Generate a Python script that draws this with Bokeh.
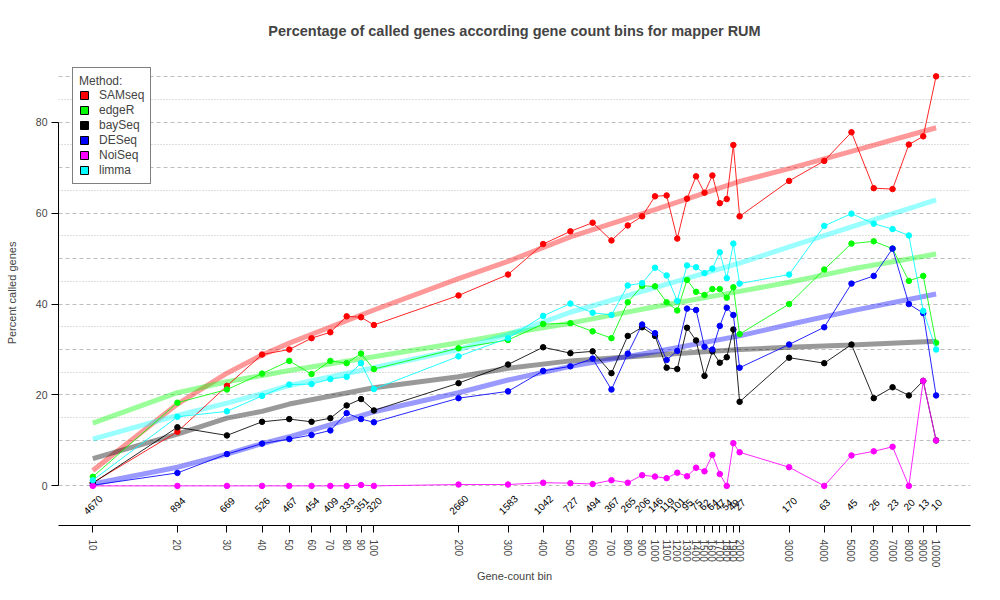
import math
from bokeh.plotting import figure
from bokeh.models import (Range1d, FixedTicker, PrintfTickFormatter, Legend,
                          LegendItem)
from bokeh.embed import file_html
from bokeh.resources import INLINE

# ---------------- data ----------------
bins = [10, 20, 30, 40, 50, 60, 70, 80, 90, 100,
        200, 300, 400, 500, 600, 700, 800, 900, 1000,
        1100, 1200, 1300, 1400, 1500, 1600, 1700, 1800, 1900, 2000,
        3000, 4000, 5000, 6000, 7000, 8000, 9000, 10000]

gene_counts = [4670, 894, 669, 526, 467, 454, 409, 333, 351, 320,
               2660, 1583, 1042, 727, 494, 367, 265, 206, 146,
               119, 101, 95, 75, 62, 64, 47, 54, 49, 27,
               170, 63, 45, 26, 23, 20, 13, 10]

samseq = [0.7, 11.9, 22.0, 28.9, 30.0, 32.5, 33.8, 37.3, 37.1, 35.4,
          41.9, 46.5, 53.2, 56.0, 57.9, 54.0, 57.3, 59.3, 63.7,
          63.9, 54.4, 63.2, 68.1, 64.5, 68.3, 62.2, 63.1, 75.0, 59.3,
          67.1, 71.5, 77.8, 65.5, 65.3, 75.1, 76.9, 90.1]

edger = [2.0, 18.3, 21.2, 24.7, 27.5, 24.6, 27.5, 27.0, 29.1, 25.7,
         30.3, 32.1, 35.6, 35.8, 34.0, 32.5, 40.4, 44.0, 43.9,
         40.4, 38.6, 45.3, 42.7, 42.0, 43.3, 43.3, 41.4, 43.7, 33.4,
         40.0, 47.6, 53.3, 53.8, 52.2, 45.1, 46.2, 31.5]

bayseq = [0.6, 12.9, 11.1, 14.1, 14.7, 14.1, 14.9, 17.7, 19.1, 16.6,
          22.6, 26.7, 30.5, 29.2, 29.6, 24.8, 33.0, 34.9, 33.0,
          26.0, 25.7, 34.8, 32.0, 24.2, 29.6, 27.1, 28.3, 34.4, 18.5,
          28.2, 27.0, 31.1, 19.3, 21.7, 19.9, 23.1, 10.0]

deseq = [0.15, 2.85, 7.0, 9.3, 10.3, 11.2, 12.2, 16.0, 14.7, 14.0,
         19.3, 20.8, 25.3, 26.3, 28.0, 21.2, 29.1, 35.5, 33.6,
         27.7, 29.7, 39.0, 38.7, 30.6, 30.0, 35.2, 39.2, 37.6, 26.0,
         31.1, 34.9, 44.5, 46.2, 52.2, 40.0, 38.0, 19.9]

noiseq = [0.0, 0.0, 0.0, 0.0, 0.0, 0.0, 0.0, 0.0, 0.2, 0.0,
          0.3, 0.3, 0.7, 0.6, 0.4, 1.25, 0.7, 2.35, 2.05,
          1.7, 2.9, 2.1, 4.0, 3.2, 6.8, 2.6, 0.0, 9.4, 7.4,
          4.1, 0.0, 6.7, 7.6, 8.6, 0.0, 23.1, 10.0]

limma = [1.25, 15.2, 16.4, 19.8, 22.3, 22.4, 23.5, 24.0, 27.0, 21.3,
         28.5, 32.5, 37.4, 40.1, 38.1, 37.6, 44.1, 44.6, 48.0,
         46.3, 40.7, 48.5, 48.1, 46.8, 47.8, 51.4, 45.7, 53.3, 44.5,
         46.5, 57.2, 59.9, 57.7, 56.5, 55.1, 38.5, 30.0]

# smoothed trend curves
fit_x = [10, 20, 30, 40, 50, 100, 200, 300, 500, 1000, 2000, 3000, 5000, 10000]
fit_samseq = [3.4, 18.0, 24.8, 28.8, 31.4, 38.7, 45.6, 49.4, 54.8, 60.8, 67.0, 69.8, 73.6, 78.8]
fit_edger = [13.8, 20.5, 22.9, 24.3, 25.4, 28.4, 31.5, 33.5, 35.8, 39.4, 42.8, 44.8, 47.7, 51.0]
fit_bayseq = [6.0, 11.4, 14.9, 16.4, 18.0, 21.6, 24.0, 25.9, 27.5, 28.8, 30.0, 30.5, 31.0, 31.8]
fit_deseq = [0.4, 4.1, 7.0, 9.3, 10.8, 16.3, 20.5, 23.3, 26.3, 29.5, 33.0, 35.5, 38.5, 42.2]
fit_limma = [10.3, 15.5, 18.2, 20.3, 22.1, 26.0, 30.0, 33.3, 38.2, 43.6, 49.0, 52.6, 57.0, 62.9]

methods = ["SAMseq", "edgeR", "baySeq", "DESeq", "NoiSeq", "limma"]
colors = ["#FF0000", "#00FF00", "#000000", "#0000FF", "#FF00FF", "#00FFFF"]
series = [samseq, edger, bayseq, deseq, noiseq, limma]
fits = [fit_samseq, fit_edger, fit_bayseq, fit_deseq, None, fit_limma]

y_ticks = [0, 20, 40, 60, 80]
grid_major = [0, 10, 20, 30, 40, 50, 60, 70, 80, 90]
grid_minor = [5, 15, 25, 35, 45, 55, 65, 75, 85]

TITLE = "Percentage of called genes according gene count bins for mapper RUM"

# ---------------- layout ----------------
FONT = "Liberation Sans"
BL, BR, BT, BB = 58, 14, 60, 59
FRAME_W, FRAME_H = 912, 466
W = BL + FRAME_W + BR
H = BT + FRAME_H + BB
PX_PER_DECADE = 281.1
X0_PX = 34.3                              # pixel offset of x=10 inside frame
x_start = 10 ** (1 - X0_PX / PX_PER_DECADE)
x_end = 10 ** (1 + (FRAME_W - X0_PX) / PX_PER_DECADE)
PX_PER_UNIT = 4.555
ZERO_PX = 426.3                           # pixel of y=0 from frame top
y_end = ZERO_PX / PX_PER_UNIT
y_start = -(FRAME_H - ZERO_PX) / PX_PER_UNIT

p = figure(width=W, height=H, x_axis_type="log",
           x_range=Range1d(x_start, x_end), y_range=Range1d(y_start, y_end),
           output_backend="svg", toolbar_location=None,
           min_border_left=BL, min_border_right=BR,
           min_border_top=BT, min_border_bottom=BB,
           title=TITLE)

p.title.align = "center"
p.title.vertical_align = "middle"
p.title.text_font = FONT
p.title.text_font_size = "14.5px"
p.title.text_font_style = "bold"
p.title.standoff = 42
p.outline_line_color = None
p.xgrid.visible = False

p.ygrid.ticker = FixedTicker(ticks=grid_major, minor_ticks=grid_minor)
p.ygrid.grid_line_color = "#BEBEBE"
p.ygrid.grid_line_dash = "4 3"
p.ygrid.minor_grid_line_color = "#BEBEBE"
p.ygrid.minor_grid_line_dash = "1 2"

xa = p.xaxis[0]
xa.ticker = FixedTicker(ticks=bins, minor_ticks=[])
xa.formatter = PrintfTickFormatter(format="%d")
xa.major_label_orientation = "vertical"
xa.major_tick_out = 7
xa.major_tick_in = 0
xa.minor_tick_out = 0
xa.minor_tick_in = 0
xa.major_label_standoff = 7
xa.major_label_text_font = FONT
xa.major_label_text_font_size = "10px"
xa.axis_label = "Gene-count bin"
xa.axis_label_text_font = FONT
xa.axis_label_text_font_size = "11px"
xa.axis_label_text_font_style = "normal"
xa.axis_label_standoff = 0
xa.axis_line_color = "black"

ya = p.yaxis[0]
ya.ticker = FixedTicker(ticks=y_ticks, minor_ticks=[])
ya.bounds = (0, 80)
ya.major_tick_out = 7
ya.major_tick_in = 0
ya.minor_tick_out = 0
ya.minor_tick_in = 0
ya.major_label_standoff = 4
ya.major_label_orientation = "horizontal"
ya.major_label_text_font = FONT
ya.major_label_text_font_size = "10.5px"
ya.axis_label = "Percent called genes"
ya.axis_label_text_font = FONT
ya.axis_label_text_font_size = "11px"
ya.axis_label_text_font_style = "normal"
ya.axis_label_standoff = 15

# trend curves
for fit, c in zip(fits, colors):
    if fit is not None:
        p.line(fit_x, fit, line_width=5, line_color=c, line_alpha=0.4)

# data lines and points
for vals, c in zip(series, colors):
    p.line(bins, vals, line_width=1, line_color=c, line_alpha=0.85)
    p.scatter(bins, vals, size=5.5, marker="circle", fill_color=c, line_color=c)

# gene count labels above the axis
label_y = -4.1
p.text(x=bins, y=[label_y] * len(bins), text=[str(g) for g in gene_counts],
       angle=math.pi / 4, text_align="center", text_baseline="middle",
       text_font_size="10px", text_font={"value": FONT}, text_color="black")

# legend with filled-square keys (proxy glyphs with no visible extent)
nan = float("nan")
items = []
for name, c in zip(methods, colors):
    r = p.quad(left=[nan], right=[nan], top=[nan], bottom=[nan],
               fill_color=c, line_color="black")
    items.append(LegendItem(label=name, renderers=[r]))

legend = Legend(items=items, title="Method:", location=(14, 341),
                glyph_width=10, glyph_height=10, label_height=14,
                label_standoff=10, spacing=1, padding=6, margin=0,
                title_standoff=0,
                label_text_font=FONT, label_text_font_size="12px",
                title_text_font=FONT, title_text_font_size="12px",
                title_text_font_style="normal",
                border_line_color="black", border_line_width=1,
                background_fill_color="white", background_fill_alpha=1.0)
p.add_layout(legend)

open("out.html", "w").write(file_html(p, INLINE))
